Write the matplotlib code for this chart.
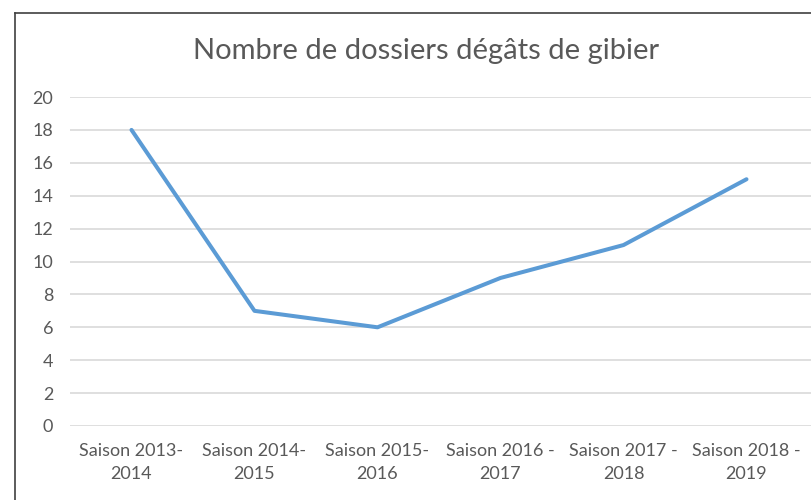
import matplotlib
matplotlib.use("Agg")
import matplotlib.pyplot as plt
from matplotlib.lines import Line2D

# donnees
saisons = ["Saison 2013-\n2014", "Saison 2014-\n2015", "Saison 2015-\n2016",
           "Saison 2016 -\n2017", "Saison 2017 -\n2018", "Saison 2018 -\n2019"]
dossiers = [18, 7, 6, 9, 11, 15]
yticks = list(range(0, 21, 2))

plt.rcParams['font.family'] = ['Lato', 'DejaVu Sans']

fig = plt.figure(figsize=(8.11, 5.0), dpi=100)
ax = fig.add_axes([70/811, 74/500, 741/811, 329/500])

x = list(range(len(saisons)))
ax.plot(x, dossiers, color='#5B9BD5', linewidth=2.9, solid_capstyle='round', zorder=3)

ax.set_xlim(-0.5, -0.5 + 741/123)
ax.set_ylim(0, 20)
ax.set_yticks(yticks)
ax.set_xticks(x)
ax.set_xticklabels(saisons, linespacing=1.55)
ax.grid(axis='y', color='#D9D9D9', linewidth=1.2)
ax.set_axisbelow(True)
for s in ax.spines.values():
    s.set_visible(False)
ax.tick_params(axis='both', length=0, labelsize=13, colors='#595959')
ax.tick_params(axis='y', pad=12)
ax.tick_params(axis='x', pad=12)

fig.text(426/811, 1 - 51/500, "Nombre de dossiers dégâts de gibier",
         ha='center', va='center', fontsize=21, color='#595959')

# cadre du graphique (coupe a droite et en bas)
fig.add_artist(Line2D([15/811, 15/811], [0, 1 - 13/500], color='#404040', linewidth=1.2))
fig.add_artist(Line2D([15/811, 1], [1 - 13/500, 1 - 13/500], color='#404040', linewidth=1.2))

fig.savefig("out.png", dpi=100)
